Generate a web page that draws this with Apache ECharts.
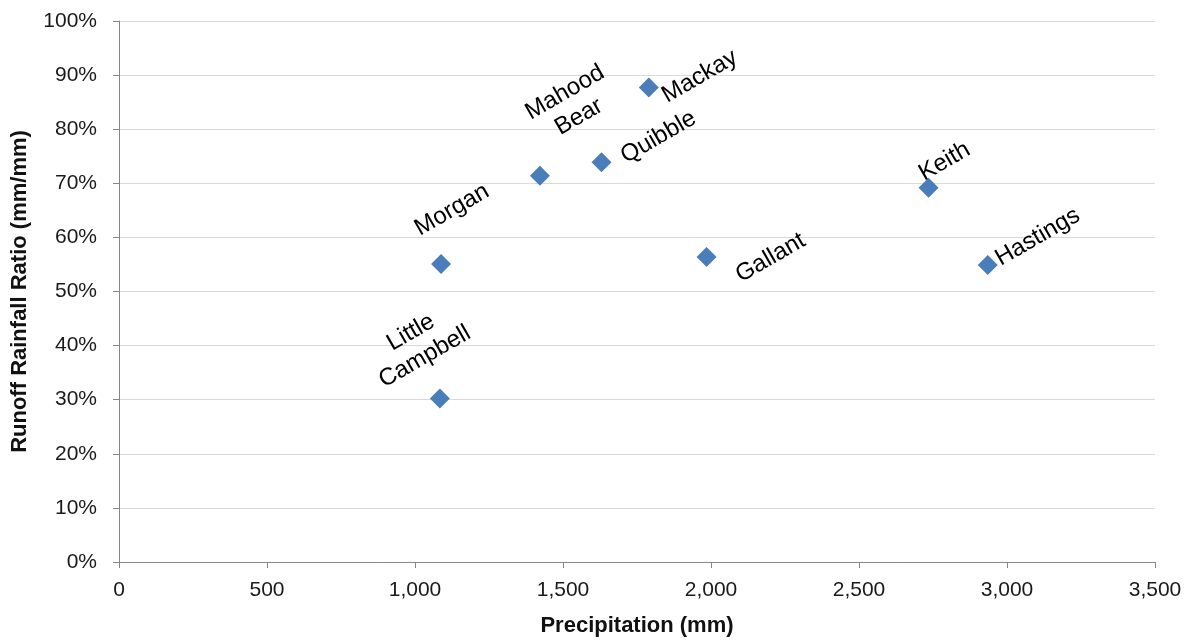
<!DOCTYPE html>
<html>
<head>
<meta charset="utf-8">
<title>Runoff Rainfall Ratio vs Precipitation</title>
<script src="https://cdn.jsdelivr.net/npm/echarts@6/dist/echarts.min.js"></script>
<style>
  html, body { margin: 0; padding: 0; background: #ffffff; }
  #chart { width: 1194px; height: 642px; }
</style>
</head>
<body>
<div id="chart"></div>
<script>
// Watersheds: annual precipitation (mm) and runoff/rainfall ratio
const sites = ['Little Campbell', 'Morgan', 'Mahood Bear', 'Quibble', 'Mackay', 'Gallant', 'Keith', 'Hastings'];
const precipitation = [1084, 1088, 1422, 1630, 1790, 1985, 2735, 2935];
const runoffRatio = [0.302, 0.551, 0.714, 0.739, 0.877, 0.564, 0.692, 0.549];

const xTicks = { min: 0, max: 3500, interval: 500 };
const yTicks = { min: 0, max: 1, interval: 0.1 };

// Label placement: screen offset from the marker centre, in pixels
const labelAngle = 30;
const labelShift = {
  'Little Campbell': [-22, -54],
  'Morgan': [11, -54],
  'Mahood Bear': [32, -71],
  'Quibble': [57, -25],
  'Mackay': [51, -11],
  'Gallant': [64, 1],
  'Keith': [16, -26],
  'Hastings': [50, -28]
};

// Label offsets are applied in the rotated text frame, so convert screen shifts
function localOffset(d, deg) {
  const t = deg * Math.PI / 180;
  return [d[0] * Math.cos(t) - d[1] * Math.sin(t), d[0] * Math.sin(t) + d[1] * Math.cos(t)];
}

const points = sites.map((name, i) => ({
  name: name,
  value: [precipitation[i], runoffRatio[i]],
  label: { offset: localOffset(labelShift[name], labelAngle) }
}));

const font = 'Liberation Sans, Arial, sans-serif';
const axisGray = '#868686';

const chart = echarts.init(document.getElementById('chart'), null, { renderer: 'canvas' });
chart.setOption({
  animation: false,
  backgroundColor: '#ffffff',
  grid: { left: 119, right: 39, top: 21, bottom: 80, containLabel: false },
  xAxis: {
    type: 'value',
    min: xTicks.min, max: xTicks.max, interval: xTicks.interval,
    name: 'Precipitation (mm)',
    nameLocation: 'middle',
    nameGap: 53,
    nameTextStyle: { fontFamily: font, fontSize: 22, fontWeight: 'bold', color: '#111111' },
    axisLine: { show: true, lineStyle: { color: axisGray, width: 1 } },
    axisTick: { show: true, inside: false, length: 6, lineStyle: { color: axisGray } },
    splitLine: { show: false },
    axisLabel: {
      margin: 18,
      fontFamily: font, fontSize: 21, color: '#1a1a1a',
      formatter: v => v.toLocaleString('en-US')
    }
  },
  yAxis: {
    type: 'value',
    min: yTicks.min, max: yTicks.max, interval: yTicks.interval,
    name: 'Runoff Rainfall Ratio (mm/mm)',
    nameLocation: 'middle',
    nameGap: 88,
    nameTextStyle: { fontFamily: font, fontSize: 22, fontWeight: 'bold', color: '#111111' },
    axisLine: { show: true, lineStyle: { color: axisGray, width: 1 } },
    axisTick: { show: true, inside: false, length: 6, lineStyle: { color: axisGray } },
    splitLine: { show: true, lineStyle: { color: '#d9d9d9', width: 1 } },
    axisLabel: {
      margin: 22,
      fontFamily: font, fontSize: 21, color: '#1a1a1a',
      formatter: v => Math.round(v * 100) + '%'
    }
  },
  series: [{
    type: 'scatter',
    symbol: 'diamond',
    symbolSize: 20,
    itemStyle: { color: '#4a7ebb', opacity: 1 },
    label: {
      show: true,
      position: 'inside',
      align: 'center',
      verticalAlign: 'middle',
      rotate: labelAngle,
      lineHeight: 28,
      fontFamily: font,
      fontSize: 24,
      color: '#000000',
      opacity: 1,
      formatter: p => p.name.replace(' ', '\n')
    },
    data: points
  }]
});
</script>
</body>
</html>
